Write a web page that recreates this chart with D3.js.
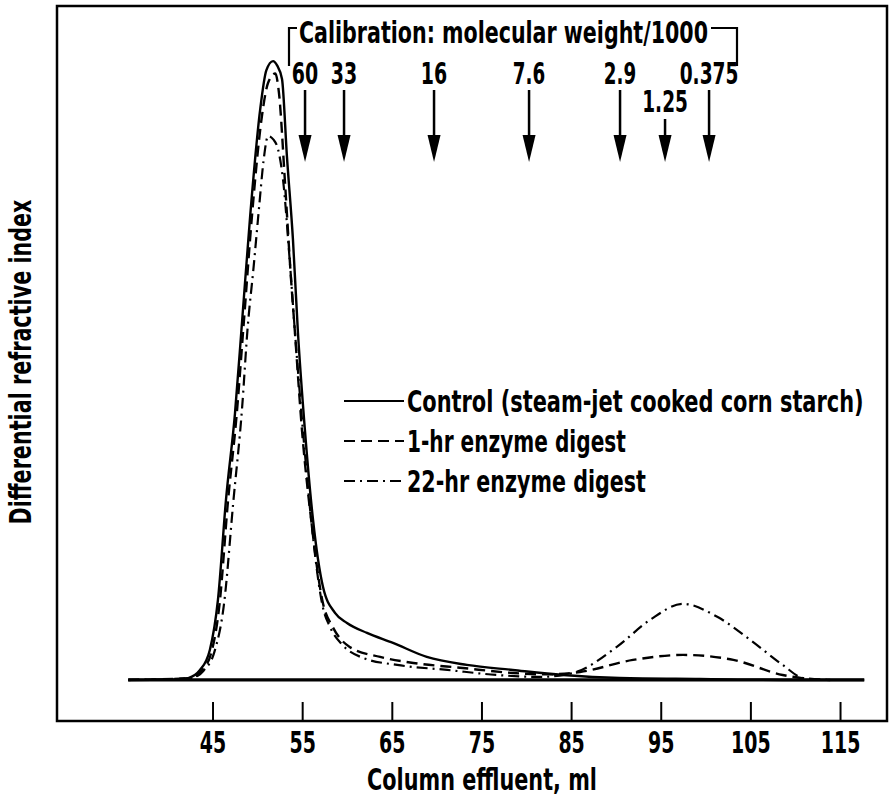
<!DOCTYPE html>
<html><head><meta charset="utf-8">
<script src="https://cdn.jsdelivr.net/npm/d3@7/dist/d3.min.js"></script>
<style>
body{margin:0;background:#fff;}
text{font-family:"DejaVu Sans Condensed","Liberation Sans Narrow","Roboto Condensed",sans-serif;font-weight:bold;font-stretch:condensed;fill:#000;}
</style></head>
<body><svg id="c" width="892" height="796"></svg>
<script>
// ---- data ----
const xTicks = [45, 55, 65, 75, 85, 95, 105, 115];
const controlX = [35.6, 41.4, 42.3, 43.6, 44.7, 45.6, 46.5, 47.5, 48.3, 49.2, 50.3, 51.0, 51.75, 52.2, 52.75, 53.3, 53.97, 54.53, 55.3, 56.21, 57.32, 58.66, 60.0, 62.23, 65.13, 68.9, 73.37, 78.5, 84.1, 90.4, 99.35, 110.5, 117.7];
const controlY = [0, 0.1, 0.3, 1.6, 4.85, 12.9, 29.1, 43, 58, 75, 92, 98.5, 100, 99.3, 97.1, 84.6, 71.2, 56.1, 40.5, 25.9, 15.05, 10.84, 9.22, 7.6, 5.99, 3.72, 2.43, 1.62, 0.81, 0.32, 0.16, 0, 0];
const hr1X = [35.6, 42.5, 43.8, 44.9, 45.8, 46.7, 47.7, 48.5, 49.4, 50.5, 51.2, 52.0, 52.4, 53.1, 53.7, 54.2, 55.0, 56.0, 57.3, 58.4, 60.3, 63.7, 67.4, 72.9, 78.5, 82.1, 86.0, 91.9, 97.5, 103.1, 108.6, 111.6, 113.9];
const hr1Y = [0, 0.3, 1.5, 4.6, 12.5, 28.5, 43, 58, 75, 91, 96.5, 98, 95, 80, 66, 56, 40, 25.9, 12.5, 8.58, 5.34, 3.72, 2.75, 1.94, 1.13, 0.9, 1.29, 3.24, 4.05, 3.24, 0.81, 0.16, 0];
const hr22X = [35.6, 42.6, 44.0, 45.2, 46.3, 47.3, 48.3, 48.9, 49.6, 50.2, 50.7, 51.2, 51.8, 52.3, 52.86, 53.6, 54.2, 55.1, 56.0, 57.3, 58.1, 59.5, 61.8, 65.6, 71.2, 76.7, 81.5, 85.2, 90.1, 93.8, 97.5, 101.3, 105.0, 108.6, 110.9, 113.9];
const hr22Y = [0, 0.3, 1.5, 4.5, 12.5, 28.5, 44, 56.6, 67, 76.5, 84, 87.9, 87.3, 85.8, 80.9, 68, 56.1, 40, 25.9, 11.8, 8.58, 5.66, 3.56, 2.43, 1.62, 0.81, 0.49, 1.13, 5.34, 9.71, 12.3, 10.2, 6.47, 2.43, 0.32, 0];
const baselineX = [35.6, 117.7];
const calibX = [55.32, 59.67, 69.71, 80.31, 90.46, 95.48, 100.39];
const calibLabels = ["60", "33", "16", "7.6", "2.9", "1.25", "0.375"];
const legendLabels = ["Control (steam-jet cooked corn starch)", "1-hr enzyme digest", "22-hr enzyme digest"];

// ---- chart ----
const svg = d3.select("#c");
const L = 57, R = 887, T = 6, B = 721;
const x = d3.scaleLinear().domain([27.65, 120.24]).range([L, R]);
const y = d3.scaleLinear().domain([-6.63, 108.9]).range([B, T]);
const charW = s => s.split("").reduce((a, c) => a + (c === "." ? 6 : 13.2), 0);

// place a text at (tx,ty) squeezed horizontally to a target width
function fitText(parent, str, tx, ty, width, anchor, extra) {
  const t = parent.append("text").attr("font-size", 31).attr("text-anchor", anchor || "start").text(str);
  const nat = t.node().getComputedTextLength();
  const sx = width / nat;
  t.attr("transform", `translate(${tx},${ty})${extra || ""} scale(${sx},1)`);
  return t;
}

svg.append("rect").attr("x", L).attr("y", T).attr("width", R - L).attr("height", B - T)
  .attr("fill", "none").attr("stroke", "#000").attr("stroke-width", 2.5);

// x axis ticks (inward)
const xAxis = d3.axisBottom(x).tickValues(xTicks).tickSize(-19).tickFormat(() => "");
const gx = svg.append("g").attr("transform", `translate(0,${B})`).call(xAxis);
gx.select(".domain").remove();
gx.selectAll(".tick line").attr("stroke", "#000").attr("stroke-width", 2);
gx.selectAll(".tick text").remove();
gx.selectAll(".tick").each(function (d) {
  fitText(d3.select(this), d3.format("d")(d), 0, 32, charW(String(d)), "middle");
});

fitText(svg, "Column effluent, ml", 482, 790, 230, "middle");
fitText(svg, "Differential refractive index", 31, 362, 325, "middle", " rotate(-90)");

const line = d3.line().x(d => x(d[0])).y(d => y(d[1])).curve(d3.curveMonotoneX);
const zip = (a, b) => a.map((v, i) => [v, b[i]]);

svg.append("path").datum(zip(baselineX, [0, 0])).attr("d", line)
  .attr("fill", "none").attr("stroke", "#000").attr("stroke-width", 3.2);

const series = [
  {d: zip(hr22X, hr22Y), dash: "11,5,2,5", w: 2.2},
  {d: zip(hr1X, hr1Y), dash: "11,6", w: 2.4},
  {d: zip(controlX, controlY), dash: null, w: 2.4}
];
series.forEach(s => {
  svg.append("path").datum(s.d).attr("d", line).attr("fill", "none")
    .attr("stroke", "#000").attr("stroke-width", s.w).attr("stroke-dasharray", s.dash)
    .attr("stroke-linejoin", "round");
});

// calibration annotation
fitText(svg, "Calibration: molecular weight/1000", 299, 43, 409, "start");
svg.append("path").attr("d", "M297,28H289V66M711,28H737V66").attr("fill", "none")
  .attr("stroke", "#000").attr("stroke-width", 2.2);
const cal = svg.append("g");
calibX.forEach((v, i) => {
  const cx = x(v);
  fitText(cal, calibLabels[i], cx, i === 5 ? 112 : 84, charW(calibLabels[i]), "middle");
  cal.append("line").attr("x1", cx).attr("x2", cx).attr("y1", i === 5 ? 119 : 90).attr("y2", 140)
    .attr("stroke", "#000").attr("stroke-width", 2.5);
  cal.append("path").attr("d", `M${cx - 6.5},135L${cx + 6.5},135L${cx},162Z`).attr("fill", "#000");
});

// legend
const lgDash = [null, "11,6", "11,5,2,5"];
const lgLen = [457, 219, 239];
const lg = svg.append("g");
legendLabels.forEach((lab, i) => {
  const ly = 401 + i * 40;
  lg.append("line").attr("x1", 344).attr("x2", 404).attr("y1", ly).attr("y2", ly)
    .attr("stroke", "#000").attr("stroke-width", 2.2).attr("stroke-dasharray", lgDash[i]);
  fitText(lg, lab, 407, ly + 11, lgLen[i], "start");
});
</script></body></html>
